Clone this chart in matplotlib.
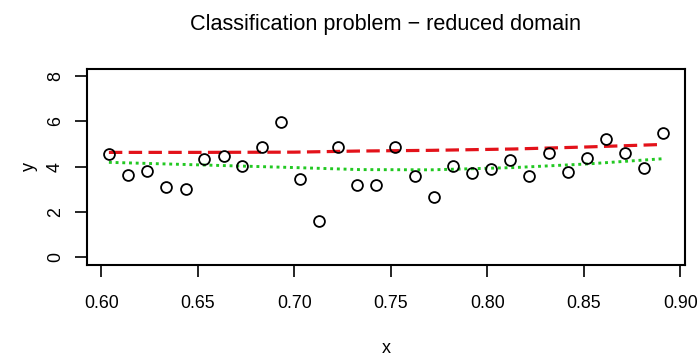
import matplotlib
matplotlib.use("Agg")
import matplotlib.pyplot as plt

plt.rcParams['font.family'] = ['Liberation Sans', 'DejaVu Sans']

# observed points
x = [0.6040, 0.6139, 0.6238, 0.6336, 0.6437, 0.6535, 0.6634, 0.6732, 0.6832, 0.6931,
     0.7030, 0.7128, 0.7228, 0.7327, 0.7425, 0.7522, 0.7624, 0.7724, 0.7823, 0.7923,
     0.8022, 0.8120, 0.8219, 0.8319, 0.8418, 0.8517, 0.8615, 0.8715, 0.8814, 0.8912]
y = [4.56, 3.65, 3.79, 3.09, 3.00, 4.35, 4.45, 4.03, 4.88, 5.98,
     3.44, 1.61, 4.88, 3.18, 3.18, 4.87, 3.57, 2.65, 4.03, 3.72,
     3.90, 4.29, 3.57, 4.60, 3.78, 4.38, 5.20, 4.62, 3.96, 5.49]

# fitted curves
fit_x = [0.604, 0.65, 0.70, 0.734, 0.771, 0.814, 0.852, 0.891]
fit_red = [4.63, 4.63, 4.64, 4.69, 4.72, 4.78, 4.87, 4.98]
fit_green = [4.19, 4.08, 3.96, 3.87, 3.86, 3.96, 4.12, 4.35]

xticks = [0.60, 0.65, 0.70, 0.75, 0.80, 0.85, 0.90]
yticks = [0, 2, 4, 6, 8]

W, H = 698, 356
fig = plt.figure(figsize=(W / 100, H / 100), dpi=100)
ax = fig.add_axes([86.7 / W, 1 - 264.5 / H, (685 - 86.7) / W, (264.5 - 68.8) / H])

ax.plot(x, y, 'o', mfc='none', mec='black', ms=7.8, mew=1.3, zorder=3)
ax.plot(fit_x, fit_red, color='#e3121a', lw=2.3, dashes=(4.2, 2.0))
ax.plot(fit_x, fit_green, color='#22c822', lw=2.1, dashes=(1.0, 1.3), dash_capstyle='butt')

ax.set_xlim(0.5925, 0.9025)
ax.set_ylim(-0.32, 8.32)
ax.set_xticks(xticks)
ax.set_xticklabels(['%.2f' % v for v in xticks])
ax.set_yticks(yticks)
ax.set_yticklabels([str(v) for v in yticks], rotation=90, va='center', ha='center')

for s in ax.spines.values():
    s.set_linewidth(1.5)
ax.tick_params(axis='both', direction='out', length=8.6, width=1.2, labelsize=12.8, colors='black')
ax.tick_params(axis='x', pad=13)
ax.tick_params(axis='y', pad=14)

ax.set_xlabel('x', fontsize=13)
ax.xaxis.set_label_coords(0.5, -0.429)
ax.xaxis.label.set_va('center')
ax.set_ylabel('y', fontsize=13)
ax.yaxis.set_label_coords(-0.0964, 0.5)
ax.yaxis.label.set_va('center')

fig.text(386 / W, 1 - 30 / H, 'Classification problem \u2212 reduced domain',
         ha='center', va='baseline', fontsize=15.6)

fig.savefig('out.png', dpi=100)
